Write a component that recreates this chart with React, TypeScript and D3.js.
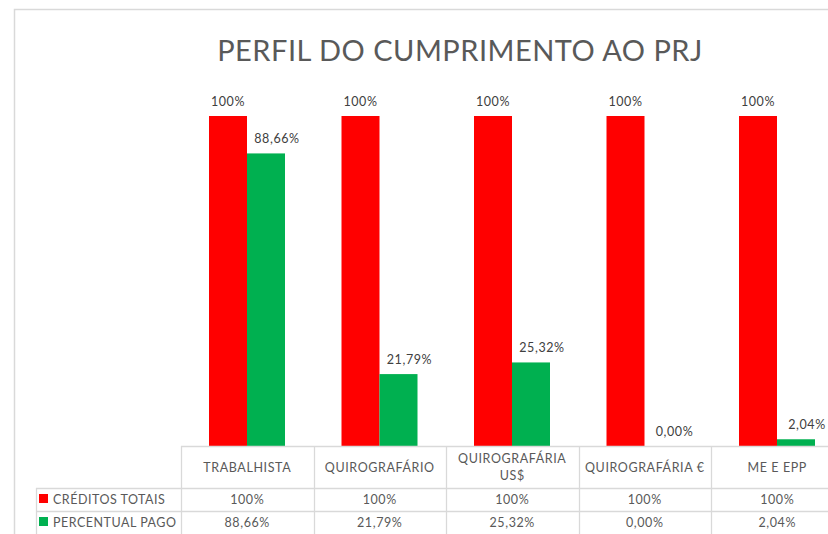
import { useEffect, useRef } from 'react';
import * as d3 from 'd3';

const categories = ['TRABALHISTA', 'QUIROGRAFÁRIO', 'QUIROGRAFÁRIA US$', 'QUIROGRAFÁRIA €', 'ME E EPP'];
const headerLines = [['TRABALHISTA'], ['QUIROGRAFÁRIO'], ['QUIROGRAFÁRIA', 'US$'], ['QUIROGRAFÁRIA €'], ['ME E EPP']];
const seriesNames = ['CRÉDITOS TOTAIS', 'PERCENTUAL PAGO'];
const creditosTotais = [100, 100, 100, 100, 100];
const percentualPago = [88.66, 21.79, 25.32, 0.0, 2.04];
const seriesColors = ['#ff0000', '#00b050'];

const fmt = (v: number) => (v === 100 ? '100%' : v.toFixed(2).replace('.', ',') + '%');

export default function App() {
  const svgRef = useRef<SVGSVGElement>(null);

  useEffect(() => {
    if (!svgRef.current) return;
    const W = 828;
    const H = 534;
    const FONT = 'Lato, "Open Sans", sans-serif';
    const TEXT = '#595959';
    const GRID = '#d9d9d9';

    const svg = d3.select(svgRef.current);
    svg.selectAll('*').remove();
    svg.attr('width', W).attr('height', H).attr('viewBox', `0 0 ${W} ${H}`);

    const baseY = 446;
    const tableLeft = 36;
    const row1Y = 488;
    const row2Y = 511;
    const rowBottom = 534;

    const x = d3.scaleBand<string>()
      .domain(categories)
      .range([181, 181 + 132.5 * categories.length])
      .padding(0);

    const inner = d3.scaleBand<string>()
      .domain(seriesNames)
      .range([28, 104])
      .padding(0);

    const y = d3.scaleLinear().domain([0, 100]).range([baseY, 116]);

    // Chart frame
    svg.append('rect')
      .attr('x', 14.5).attr('y', 9.5)
      .attr('width', W).attr('height', H)
      .attr('fill', '#fff')
      .attr('stroke', GRID)
      .attr('stroke-width', 1.5);

    // Title
    svg.append('text')
      .attr('x', 460).attr('y', 61)
      .attr('text-anchor', 'middle')
      .attr('font-family', FONT)
      .attr('font-size', 29)
      .attr('letter-spacing', 0.5)
      .attr('fill', TEXT)
      .text('PERFIL DO CUMPRIMENTO AO PRJ');

    const series = [creditosTotais, percentualPago];
    const labelShift = [0, 11];

    series.forEach((vals, si) => {
      const g = svg.append('g');
      g.selectAll('rect')
        .data(vals)
        .join('rect')
        .attr('x', (d, i) => (x(categories[i]) as number) + (inner(seriesNames[si]) as number))
        .attr('y', d => y(d))
        .attr('width', inner.bandwidth())
        .attr('height', d => baseY - y(d))
        .attr('fill', seriesColors[si]);

      g.selectAll('text')
        .data(vals)
        .join('text')
        .attr('x', (d, i) => (x(categories[i]) as number) + (inner(seriesNames[si]) as number) + inner.bandwidth() / 2 + labelShift[si])
        .attr('y', d => y(d) - 10.5)
        .attr('text-anchor', 'middle')
        .attr('font-family', FONT)
        .attr('font-size', 12.5)
        .attr('letter-spacing', 0.6)
        .attr('fill', '#404040')
        .text(d => fmt(d));
    });

    // Data table grid
    const grid = svg.append('g').attr('stroke', GRID).attr('stroke-width', 1.3);
    grid.append('line').attr('x1', 181).attr('x2', W).attr('y1', baseY + 0.5).attr('y2', baseY + 0.5);
    grid.append('line').attr('x1', tableLeft).attr('x2', W).attr('y1', row1Y + 0.5).attr('y2', row1Y + 0.5);
    grid.append('line').attr('x1', tableLeft).attr('x2', W).attr('y1', row2Y + 0.5).attr('y2', row2Y + 0.5);
    grid.append('line').attr('x1', tableLeft + 0.5).attr('x2', tableLeft + 0.5).attr('y1', row1Y).attr('y2', rowBottom);
    categories.forEach(c => {
      const xx = Math.round(x(c) as number) + 0.5;
      grid.append('line').attr('x1', xx).attr('x2', xx).attr('y1', baseY).attr('y2', rowBottom);
    });

    // Header labels
    categories.forEach((c, i) => {
      const cx = (x(c) as number) + x.bandwidth() / 2;
      const lines = headerLines[i];
      const t = svg.append('text')
        .attr('text-anchor', 'middle')
        .attr('font-family', FONT)
        .attr('font-size', 12.5)
        .attr('letter-spacing', 0.6)
        .attr('fill', TEXT);
      const startY = lines.length === 1 ? 472 : 463;
      lines.forEach((ln, li) => {
        t.append('tspan').attr('x', cx).attr('y', startY + li * 17).text(ln);
      });
    });

    // Row labels with legend keys and values
    const rowYs = [row1Y, row2Y];
    series.forEach((vals, si) => {
      const ry = rowYs[si];
      svg.append('rect')
        .attr('x', 39).attr('y', ry + 6)
        .attr('width', 9).attr('height', 9)
        .attr('fill', seriesColors[si]);
      svg.append('text')
        .attr('x', 53).attr('y', ry + 16)
        .attr('font-family', FONT)
        .attr('font-size', 12.5)
        .attr('letter-spacing', 0.5)
        .attr('fill', TEXT)
        .text(seriesNames[si]);
      svg.append('g')
        .selectAll('text')
        .data(vals)
        .join('text')
        .attr('x', (d, i) => (x(categories[i]) as number) + x.bandwidth() / 2)
        .attr('y', ry + 16)
        .attr('text-anchor', 'middle')
        .attr('font-family', FONT)
        .attr('font-size', 12.5)
        .attr('letter-spacing', 0.6)
        .attr('fill', TEXT)
        .text(d => fmt(d));
    });
  }, []);

  return (
    <svg ref={svgRef} style={{ position: 'absolute', left: 0, top: 0, display: 'block' }} />
  );
}
